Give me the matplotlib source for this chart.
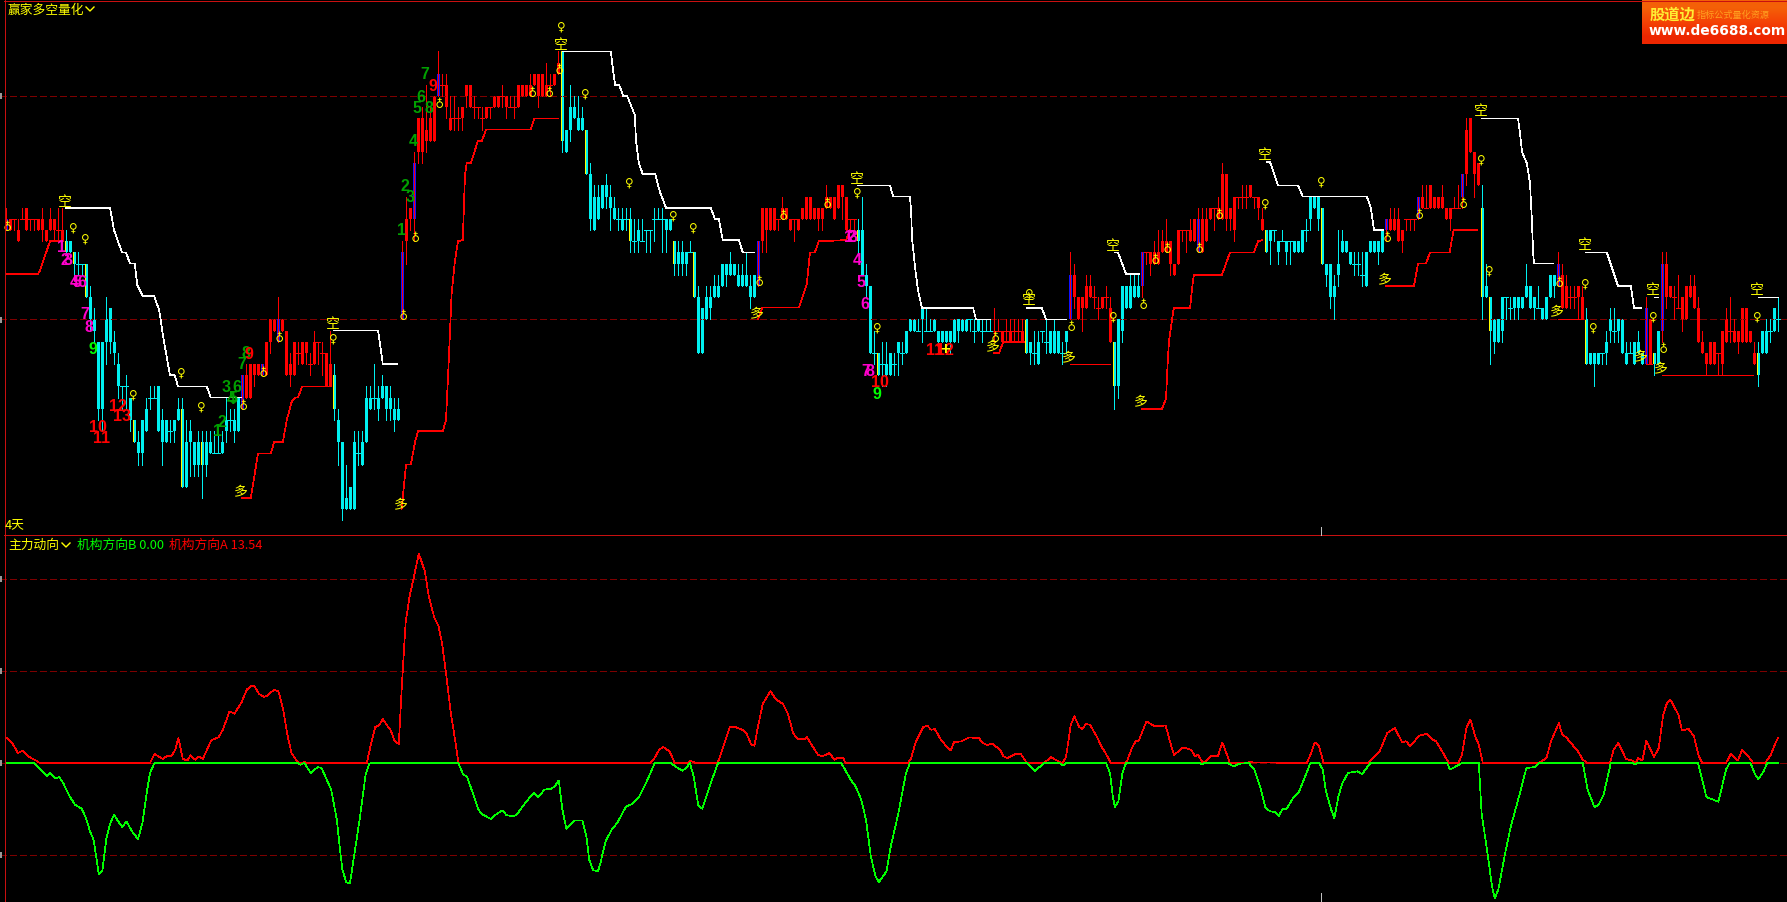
import numpy as np
import matplotlib
matplotlib.use('Agg')
import matplotlib.pyplot as plt
from matplotlib.lines import Line2D
from matplotlib.patches import Rectangle

plt.rcParams['font.family'] = ['Noto Sans CJK SC', 'DejaVu Sans']

W, H = 1787, 902

# candles, in price ticks from the lower grid line, one entry per bar
body_top = [
    9,9,9,8,9,10,9,9,9,9, 8,9,9,8,8,7,7,6,5,5,
    5,2,0,-2,-2,0,1,-2,-4,-6, -6,-7,-9,-11,-9,-8,-7,-7,-6,-9,
    -9,-10,-9,-8,-8,-11,-10,-11,-11,-11, -11,-11,-12,-12,-11,-9,-9,-9,-7,-5,
    -5,-4,-4,-4,-4,-2,0,0,0,0, -1,-4,-2,-3,-2,-2,-4,-2,-2,-3,
    -3,-4,-5,-9,-11,-16,-15,-11,-12,-11, -7,-7,-7,-7,-6,-6,-7,-8,-8,6,
    9,10,14,18,18,17,18,20,22,21, 21,18,18,18,19,21,21,19,19,18,
    19,19,20,20,20,20,19,19,21,21, 21,21,22,22,22,21,21,22,23,24,
    17,19,19,18,18,17,13,11,11,12, 12,11,10,9,9,9,9,7,8,7,
    8,8,9,9,9,9,9,7,6,6, 6,6,6,2,1,2,2,3,3,5,
    5,5,5,4,4,4,3,4,7,10, 10,10,10,9,10,10,9,9,9,10,
    11,11,10,10,10,11,11,11,12,12, 11,9,9,8,8,4,3,-3,-3,-4,
    -4,-3,-4,-2,-3,-1,0,0,-1,1, -1,-1,0,-1,-1,-1,-1,0,0,0,
    0,0,-1,0,-1,-1,-1,-1,-1,-1, -1,-1,-1,-1,-1,0,-2,-3,-2,-1,
    -2,-1,-1,-1,-3,-1,4,4,2,2, 3,3,2,1,2,2,1,-2,0,3,
    3,3,3,3,6,6,6,6,6,7, 7,7,5,8,8,8,8,9,9,9,
    9,10,10,10,13,13,10,11,11,11, 11,12,11,11,9,8,8,8,7,7,
    7,7,7,7,8,8,11,11,11,10, 5,5,3,5,7,7,6,5,5,4,
    6,7,7,7,8,9,9,9,9,8, 9,9,9,11,11,10,12,11,11,11,
    10,10,10,10,13,17,18,15,14,10, 3,2,0,0,2,2,1,2,2,2,
    3,3,2,1,1,2,4,4,5,4, 3,2,2,3,2,0,-3,-3,-3,-3,
    -2,0,-1,0,0,-3,-3,-2,-2,-3, 1,0,-3,-1,5,5,3,2,1,2,
    3,3,3,1,-2,-3,-2,-2,-3,-1, 0,-1,-1,-1,1,1,-1,-3,-3,-1,
    -1,-1,1,0]
body_bot = [
    8,8,9,7,9,8,9,9,8,8, 7,8,8,8,7,6,6,5,5,5,
    2,0,-1,-8,-8,-2,-2,-3,-6,-6, -6,-9,-11,-12,-12,-10,-7,-7,-10,-11,
    -11,-10,-10,-9,-15,-15,-11,-13,-13,-13, -13,-12,-12,-12,-12,-10,-9,-10,-10,-8,
    -7,-7,-5,-5,-5,-5,-2,-1,-2,-1, -5,-5,-5,-3,-4,-3,-4,-4,-2,-3,
    -6,-6,-8,-11,-17,-17,-17,-17,-12,-13, -11,-8,-7,-8,-7,-8,-8,-9,-9,0,
    7,9,9,15,15,16,16,16,20,21, 19,17,18,18,18,20,19,19,19,18,
    18,19,19,19,20,19,19,19,19,20, 20,20,21,20,20,20,21,21,22,16,
    15,17,18,17,17,13,9,8,9,10, 11,10,9,9,8,9,7,7,7,7,
    8,8,9,9,9,8,8,5,5,5, 5,6,2,-3,-3,0,1,2,2,3,
    4,4,4,3,3,3,2,2,3,7, 8,8,8,9,9,9,8,9,8,9,
    9,9,9,9,9,10,10,9,10,11, 8,9,9,7,4,3,-3,-3,-5,-4,
    -5,-5,-4,-3,-3,-3,-1,-1,-1,0, -1,-1,-1,-2,-2,-2,-2,-2,-1,-1,
    -1,0,-1,-1,-1,-1,-1,-1,-1,-2, -1,-2,-1,-1,-2,-3,-3,-3,-4,-1,
    -2,-3,-3,-3,-3,-2,0,2,0,1, 1,2,2,1,1,2,-2,-6,-6,-1,
    1,1,2,2,3,6,5,5,5,6, 6,5,4,5,8,8,7,7,6,6,
    7,9,10,9,9,9,9,8,11,11, 11,11,11,10,8,6,7,8,6,7,
    6,7,6,6,6,8,9,10,9,5, 4,2,2,4,6,6,5,5,5,4,
    3,6,6,6,6,8,8,8,7,7, 9,9,9,9,10,10,10,10,10,10,
    9,9,10,10,11,13,15,13,12,2, 2,-1,-2,-2,-1,2,1,1,1,1,
    2,1,1,1,0,0,2,3,3,1, 1,2,2,2,0,-4,-4,-4,-4,-3,
    -3,-1,-1,-1,-3,-4,-3,-4,-3,-4, -4,-4,-4,-4,-1,2,2,2,1,0,
    0,2,1,-2,-3,-4,-4,-4,-3,-4, -2,-1,-2,-2,-2,-2,-2,-4,-5,-3,
    -3,-1,-1,0]
wick_hi = [
    10,9,9,9,10,10,9,9,9,10, 8,10,9,10,10,8,7,6,6,5,
    5,3,1,-2,-2,2,1,-1,-3,-6, -5,-7,-9,-10,-9,-7,-6,-6,-6,-8,
    -9,-9,-9,-7,-7,-9,-9,-11,-10,-10, -10,-10,-10,-10,-10,-7,-8,-8,-7,-5,
    -4,-4,-4,-4,-4,-2,0,0,2,0, -1,-3,-2,-2,-2,-2,-3,-1,-2,-2,
    -3,-1,-4,-8,-11,-13,-15,-10,-10,-10, -6,-6,-4,-6,-5,-6,-6,-7,-7,7,
    11,10,15,18,19,21,19,20,24,22, 22,20,20,19,19,21,21,20,19,19,
    19,19,20,20,21,20,20,20,21,21, 21,22,22,22,22,23,22,22,24,24,
    17,21,20,20,19,17,14,12,12,12, 13,12,11,10,10,10,10,9,9,9,
    8,8,10,10,10,9,9,7,7,7, 6,7,6,3,1,3,3,4,4,5,
    5,6,5,5,5,6,4,4,7,10, 10,10,10,9,11,10,9,9,9,10,
    11,11,10,10,10,12,11,11,12,12, 11,9,9,9,11,5,3,-1,-3,-2,
    -2,-3,-3,-2,-2,-1,0,0,0,1, 1,0,0,-1,-1,-1,-1,0,0,0,
    0,0,0,0,0,0,0,1,0,-1, 0,0,0,0,0,0,-2,-1,-1,-1,
    0,-1,0,-1,-2,-1,6,5,2,2, 4,4,3,2,2,3,2,-2,0,3,
    3,4,4,4,6,6,6,7,8,8, 9,7,5,8,8,8,9,9,10,10,
    10,10,10,11,14,13,10,11,11,12, 12,12,11,11,10,8,8,8,7,8,
    7,7,7,7,8,9,11,11,11,10, 5,5,4,8,8,7,6,6,6,6,
    6,7,7,7,8,9,10,10,10,8, 9,9,9,11,12,12,12,11,11,12,
    10,10,11,12,13,18,18,15,14,12, 5,2,0,0,2,2,2,2,2,2,
    5,3,2,3,1,2,4,4,6,5, 4,3,3,3,3,1,-3,-3,-3,-3,
    -1,1,1,0,0,-2,-2,-2,-1,-3, 2,0,-3,-1,6,6,3,3,4,2,
    3,4,4,2,-1,-3,-2,-2,-3,-1, 1,2,0,-1,1,1,-1,-2,-2,-1,
    0,0,1,2]
wick_lo = [
    8,8,8,7,9,8,8,8,8,7, 7,8,7,7,7,6,6,4,4,4,
    2,-1,-2,-9,-10,-4,-3,-4,-7,-8, -8,-10,-11,-13,-13,-10,-8,-7,-10,-13,
    -11,-11,-11,-9,-15,-15,-14,-14,-14,-16, -14,-12,-12,-12,-12,-11,-10,-11,-10,-8,
    -7,-7,-6,-5,-5,-5,-3,-1,-2,-1, -5,-6,-5,-4,-4,-4,-5,-4,-4,-5,
    -6,-6,-9,-13,-18,-17,-17,-17,-13,-13, -11,-8,-8,-9,-7,-9,-9,-10,-9,0,
    5,8,7,14,14,15,16,16,20,20, 18,17,17,17,17,19,19,18,18,17,
    18,18,19,19,19,18,19,18,19,20, 20,20,21,19,20,20,20,21,22,15,
    15,16,18,17,17,13,8,8,9,10, 10,8,9,8,8,8,6,6,6,7,
    6,6,7,9,6,6,8,4,4,4, 4,6,2,-3,-3,0,0,2,2,3,
    3,4,4,3,3,3,1,2,3,6, 6,8,8,8,9,9,8,7,8,9,
    9,9,9,8,8,10,10,9,10,9, 8,8,8,6,4,2,-3,-4,-5,-6,
    -6,-5,-5,-5,-4,-3,-1,-1,-1,-2, -1,-1,-1,-2,-2,-2,-3,-2,-2,-1,
    -1,-1,-2,-1,-2,-1,-1,-2,-1,-2, -2,-2,-2,-2,-2,-3,-4,-4,-4,-2,
    -3,-3,-3,-3,-4,-3,0,1,0,-1, 1,2,1,0,1,1,-2,-8,-7,-2,
    1,1,2,2,2,5,4,5,5,6, 6,4,4,5,7,6,7,7,6,6,
    7,9,8,9,9,8,8,7,10,10, 10,11,10,9,8,6,5,7,5,7,
    5,5,6,6,6,7,8,10,8,5, 3,1,0,3,6,6,5,4,4,3,
    3,6,6,5,6,7,8,8,7,6, 8,8,8,9,10,10,10,10,10,10,
    9,8,10,10,10,12,15,11,12,0, 2,-4,-3,-2,-2,0,0,0,0,1,
    2,1,0,1,0,0,2,2,3,1, 1,1,1,0,0,-4,-4,-6,-4,-4,
    -4,-2,-2,-2,-3,-4,-3,-4,-3,-4, -4,-4,-5,-4,-2,1,2,0,1,-1,
    0,2,1,-2,-3,-5,-4,-4,-5,-5, -2,-2,-2,-3,-2,-2,-2,-4,-6,-3,
    -3,-2,-1,-1]

# r red, c cyan, y cyan with yellow core, b blue with red core
bar_kind = ('b' + 'r'*14 + 'y' + 'c' + 'y' + 'cc' + 'y' + 'c'*11 + 'y' + 'c'*11 + 'y' + 'c'*4 + 'y' + 'c'*9
            + 'b' + 'r'*4 + 'b' + 'r'*3 + 'b' + 'r'*13 + 'y' + 'c'*16 + 'b' + 'rr' + 'b' + 'r'*5 + 'b' + 'r'*30
            + 'y' + 'c'*5 + 'y' + 'c'*10 + 'y' + 'c'*10 + 'y' + 'c'*4 + 'y' + 'c'*15 + 'b' + 'r'*24
            + 'y' + 'c'*4 + 'y' + 'c'*28 + 'r'*8 + 'y' + 'c'*10 + 'b' + 'r'*10 + 'y' + 'c'*6 + 'b' + 'r'*13
            + 'b' + 'r'*16 + 'y' + 'c'*13 + 'y' + 'c'*15 + 'b' + 'r'*7 + 'b' + 'r'*10 + 'b' + 'r'*4 + 'y' + 'c'
            + 'y' + 'c'*16 + 'b' + 'r'*6 + 'y' + 'c'*14 + 'b' + 'r' + 'y' + 'c' + 'b' + 'r'*23 + 'y' + 'c'*5)

# white stop line, one (bars, ticks) pair per piece
white_x = [
    [15,26,27,28.5,29,30,31,32.2,32.8,34.2,37,38.3,39.3,40.2,41,42.2,43,50.2,51.2,58.7],
    [82,93,93.5,94.2,97.8],
    [139.3,151.2,151.8,152.3,153.3,154.3,155.3,157.2,157.5,158.2,159.2,162.3,163.5,165,176.2,177.2,178.2,179.2,183.2,184.2,187],
    [213,221,221.8,226,226.3,226.5,227.25,228,229,241.8,242.5,246],
    [255.2,259,260,265],
    [277.25,278,280,283.2],
    [315.2,316,318,323,324.2,340.2,341.2,342,344.3],
    [369,378,378.5,379,380.2,381,381.4,381.8,382,386.8],
    [395,400.2,403,406.2,407,408.9],
    [412,413],
    [438,443]]
white_y = [
    [10,10,8,6.5,6,6,5,5,3.1,2.1,2.1,0.84,-1.56,-3.4,-5,-5,-6,-6,-7,-7],
    [-1,-1,-2.2,-4,-4],
    [24,24,22.2,21,21,20,20,18.3,16,14,13,13,11.4,10,10,9,9,7.1,7.1,6,6],
    [12,12,11,11,9.5,7.3,4.7,2.6,1,1,0,0],
    [1,1,0,0],
    [6,6,4.07,4.07],
    [14.1,14.1,12,12,11,11,10,8,8],
    [18,18,16.7,15,14,12.2,9.4,5.9,5,5],
    [6,6,3,3,1,1],
    [2,2],
    [2,2]]

# red stop line
red_x = [
    [0,8,8.5,11,14.3],
    [58.9,61.2,63,66.2,67,69.2,70.2,71.4,72.25,73,74,81.4],
    [98.9,100,101.2,102.25,103,109.2,110,110.7,111,111.4,112.25,113,114.2,114.75,115.2,116.2,118,119,120,131.2,132.1,138],
    [188,189.1,198.25,200.2,201,202.2,203.2,210,211],
    [247,248.3,249.3,254.5],
    [266,276],
    [284,289,290,290.4,290.75,291.8,292,296,296.75,297,304,306,312,313,314],
    [345,352,353,355,356,360.9,361.9,367.9],
    [388,394.2],
    [410,411.5],
    [413.9,436.8]]
red_y = [
    [4.05,4.05,4.4,7,7],
    [-16,-16,-12,-12,-11,-11,-9,-7.4,-7,-7,-6,-6],
    [-17,-13,-13,-11,-10,-10,-9,-3.6,-1.1,2.3,5.3,7,7.1,13,14,14,16,16,17,17,18,18],
    [0,1.07,1.07,3.2,6,6,7,7.1,8],
    [-3,-3,-2,-2],
    [-4,-4],
    [-8,-8,-7.1,-4,-1.9,0.7,1,1,3.5,4,4,6,6,7,7.1],
    [3,3,5,5,6,6,8,8],
    [0,0],
    [-4,-4],
    [-5,-5]]

# marker positions (bar, ticks)
venus_pts = [(16.8,8.2),(19.8,7.2),(31.8,-6.75),(43.8,-4.8),(48.8,-7.8),(81.8,-1.75),(138.8,26.2),(144.8,20.2),
             (155.8,12.2),(166.8,9.3),(171.8,8.2),(212.8,11.3),(217.8,-0.75),(255.8,2.3),(276.8,0.24),(314.8,10.3),
             (328.8,12.3),(368.8,14.25),(370.8,4.3),(394.8,3.2),(396.8,-0.75),(411.8,0.24),(437.8,0.24)]
flip_pts = [(0,8.5),(102,7.6),(107.8,19.55),(58.9,-7.5),(63.8,-4.5),(67.8,-1.4),(98.9,0.54),(131.2,20.5),(135.3,20.5),
            (137.8,22.6),(187.8,3.6),(193.8,9.55),(204.8,10.6),(246.8,-1.4),(265.8,-0.4),(283.8,1.6),(286.8,5.6),
            (289.8,6.6),(297.8,6.6),(302.8,9.6),(344.8,7.6),(352.8,9.6),(363.8,10.6),(387.8,3.5),(413.8,-2.4)]
kong_pts = [(14.8,10.5),(81.8,-0.4),(138.8,24.6),(212.8,12.6),(255.8,1.7),(276.8,6.6),(314.8,14.7),(368.8,18.65),
            (394.8,6.7),(411.8,2.6),(437.8,2.6)]
duo_pts = [(58.7,-15.5),(98.75,-16.6),(187.8,0.5),(246.8,-2.45),(265.8,-3.5),(283.8,-7.45),(344.8,3.5),(387.8,0.6),
           (408.75,-3.4),(413.75,-4.5)]

magenta_nums = [(14,6.4,'1'),(14.8,5.25,'2'),(15.6,5.25,'3'),(17,3.3,'4'),(17.8,3.3,'5'),(18.9,3.3,'6'),(19.8,0.4,'7'),
                (20.8,-0.75,'8'),(210.7,7.3,'1'),(211.2,7.3,'2'),(211.8,7.3,'3'),(212.8,5.3,'4'),(213.8,3.3,'5'),
                (214.8,1.3,'6'),(215,-4.7,'7'),(216,-4.7,'8')]
dgreen_nums = [(53,-10,'1'),(53.9,-9.2,'2'),(55,-6.1,'3'),(56.2,-7.2,'4'),(56.8,-7.1,'5'),(57.8,-6.1,'6'),
               (58.9,-4.05,'7'),(59.9,-3.06,'8'),(98.9,8,'1'),(99.8,11.9,'2'),(101,10.9,'3'),(101.8,15.9,'4'),
               (102.8,18.9,'5'),(103.8,19.9,'6'),(104.8,21.9,'7'),(105.8,18.9,'8')]
bgreen_nums = [(21.8,-2.7,'9'),(217.8,-6.7,'9')]
red_nums = [(23.1,-9.7,'10'),(24,-10.7,'11'),(28,-7.8,'12'),(29,-8.7,'13'),(60.75,-3.1,'9'),(106.8,20.9,'9'),
            (218.5,-5.65,'10'),(232.25,-2.75,'11'),(234.75,-2.75,'12')]

# oscillator, red part above zero and green part below
osc_red_x = [0,1.4,3,4.2,5.4,6.3,7.9,8.4,36,37.1,39.2,40.1,41.4,42.3,43.1,44.2,45.4,46.1,47.3,48.1,49.2,51.3,53.2,54.2,
             55.9,57.1,58.8,60.2,61.4,62.1,63.3,64.5,65.5,66.9,68.1,69.3,70.5,71.4,72.9,73.6,74.6,75.3,90.2,91.3,92.3,
             93.2,94.2,95.6,96.1,97.2,98.2,99,99.9,100.9,102,103.2,104.7,105.7,107.1,108.1,109,110,111.2,112.4,113.1,
             161.1,161.9,163.3,164.3,165.9,167.2,170.3,171,171.9,172.4,177.7,178.2,179.6,181,182.5,184.4,185.1,186.3,
             187.1,188,189.2,191.1,192.5,194.2,195.4,196.8,197.8,199.7,200.2,201.4,203,204,205.9,207.1,207.8,209.3,209.9,
             225.5,226.2,227.4,229.3,230.3,231.3,232.2,233.7,235.1,236.2,237,238.9,240.8,243.2,244.2,245.3,246.6,248.5,
             249.4,250.4,252.3,253.7,255.2,259.5,260,261.2,262.8,264.1,265,266.2,267.1,268.3,269.1,270,271,272.9,273.8,
             274.8,276.2,279.6,280.3,281.5,282.4,283.2,285.1,287.2,289.9,291.1,292,294.2,296.3,297.3,298,298.5,299.2,
             299.9,301.3,303,304.1,306,309.5,310.7,325.2,326.1,327.2,328.2,329.4,340.6,342.5,343.4,345.3,347.2,349,350,
             351.1,353.3,355.1,356.5,357.5,359.3,360.7,363.1,364,365.1,366.1,367.3,368.2,369.2,383.2,385.1,386.3,388.2,
             389.1,390,393,394.2,395.4,401,401.9,403.1,405,406.6,407.5,408,409.1,410.1,412,413.2,414.3,415.3,416.1,418.1,
             419,420.6,422,423.2,424.1,430,431.2,433,434,435.3,436.8,439.8,441.2,442.4,443]
osc_red_y = [13.9,11.4,5.4,6.7,4,2.7,0.9,0,0,4.9,2.2,3.6,4,7.2,13.6,2.2,1.4,4.2,1.8,3.6,2.2,12.3,14.1,18.1,
             28.1,26.8,32.6,39.9,42,41.7,37.5,35.9,36.8,39.7,39.1,29,13.6,5.4,0.5,0,0.5,0,0,10.9,19.6,
             20.3,23.9,19.4,18.1,11.8,10.3,43.5,76.1,90.6,101.4,113.8,104.2,90.6,78.8,74.6,65.2,48.9,27.2,10.9,0,
             0,1.8,7.2,8.7,6.3,0,0,1.1,0.5,0,0,1.8,10.9,19.9,19.4,17.8,16.3,10,
             9.4,19.9,32.2,39.1,34.6,32.2,27.2,16.3,13.2,13,14.1,9.9,4.5,3.6,5.4,1.8,2.7,2.7,0,
             0,2.2,11.2,19.6,20.3,18.1,18.5,12.7,9.1,6.9,11.4,11.8,13.9,13.6,10.9,9.8,10.5,7.2,
             3.6,2.7,4.9,4.9,0,0,0.9,3.2,1.3,0,3.2,20.8,25.4,19.6,18.5,21.2,20.8,13.6,9.1,
             5.8,0,0,1.3,8.2,11.8,12.2,22.6,19.9,20.4,10.9,4.3,8.5,7.2,3.6,4.5,2.7,0,
             0.9,4,3.8,11.2,0,0,0.4,0,4.5,11.2,9.6,0,0,4.5,6.3,16.3,19,11.4,11.8,
             9.2,14.9,15.9,13,11.8,5.4,0,0,4.5,19,23.6,14.5,10,0,0,2.7,12.1,21.7,
             15.4,14.1,6.3,1.8,0,0,7.2,10.9,2.2,1.3,0,2.7,1.3,12.1,3.3,8.2,26.3,33,34.4,26.3,
             17.6,18.7,14.5,3.6,0,0,4.9,1.3,7.2,4.5,0,0,4.5,10.9,13.54]
osc_green_x = [0,7.1,8.5,10.2,10.9,12.4,13.3,14.3,15.7,17.2,18.9,20,21,21.9,23.2,24.1,25.1,26.1,27,28.2,29.1,30.1,31.5,33,
               34.1,35.3,36,37.1,72.9,73.6,74.6,75,76.2,77.9,78.9,80,81.3,82.7,83.6,84.1,85.1,86,87,88.4,89.9,90.8,91.3,
               113.1,114.3,115.2,116.7,118.1,119.2,121.2,122.4,124.1,125.1,127,128.1,130.1,132,133.1,134.6,136.3,137.2,
               138.2,139.1,140.1,142,144.1,145.1,145.8,146.8,148,148.5,149.9,151.4,152.8,155,156.6,158.1,160,162.2,166.2,
               167.6,169.1,170,171,171.9,173.1,174.1,176.2,178,208.8,211.2,212.4,213.8,215,216.2,217.4,218.2,220.1,221.2,
               223.1,225,226,255.2,257.3,259.5,263.3,264.3,265,275,276,276.7,277.2,278.1,279.1,280,298.5,299,299.6,305.5,
               306.9,308.3,310.7,312.1,313.5,314.9,316.1,317.2,318.2,319.1,320.2,321.9,323.3,326.1,328.3,329.2,329.9,331.3,
               332.1,333.1,334.1,335.5,337.8,339,341.1,360.3,361,364,368.2,368.9,370.6,371.5,372.2,373.1,374.8,376.2,378.5,
               380.1,382.3,383.2,394.2,395.4,397.1,398.2,399.4,401.2,406.6,407.3,407.8,423,425.1,428.1,430,430.9,436.1,437.5,
               438.1,439.4,440.3,443]
osc_green_y = [0,0,-3.3,-6.9,-5.4,-8.2,-7.6,-10.9,-17.2,-22.6,-24.8,-29.9,-37.1,-41.7,-60.3,-58.3,-40.8,-32.6,-28.1,-32.2,-34.8,-31.7,-37.1,-41.3,
               -32.6,-14.5,-5.4,0,0,-0.9,0,-1.4,-5.4,-2.2,-2.7,-8.2,-14.5,-30.8,-48.9,-58,-64.9,-65.2,-50.7,-30.8,-6.3,-0.4,0,
               0,-6.3,-7.2,-16.3,-25.4,-28.1,-30.3,-28.1,-25.7,-28.3,-29,-26.8,-20.8,-16.3,-18.5,-14.5,-13.9,-12.7,
               -9.4,-25.4,-35.7,-31.3,-31.2,-39.9,-52.5,-58.3,-58.7,-55.3,-42.6,-36.2,-32.6,-23.6,-22.3,-19,-10.9,0,0,
               -2.2,-4.2,-2.7,0,-7.2,-23.2,-24.8,-10.9,0,0,-9.1,-12.7,-19.9,-30.8,-50.7,-61.6,-64.7,-58.9,-45.3,
               -27.2,-5.4,0,0,-4.2,0,0,-1.4,0,0,-5.4,-18.1,-23.9,-20.8,-5.4,0,0,-0.7,0,0,
               -1.8,-0.4,0,-3.6,-12.7,-24.5,-26.3,-26.6,-28.8,-25,-24.8,-18.5,-15.4,0,0,-3.6,-14.5,-25.4,
               -29.9,-18.1,-10.9,-5.4,-4.5,-6,0,0,-3.6,0,0,-27.2,-52.5,-67,-73.4,-68.5,-48.9,-34.4,-16.3,
               -2.7,-2.2,0,0,-14.5,-23.9,-22.6,-17.2,0,0,-0.7,0,0,-18.5,-21,-3.6,0,0,-7.2,
               -8.7,-4.5,0,0]

assert len(body_top) == len(body_bot) == len(wick_hi) == len(wick_lo) == len(bar_kind) == 444

RED = '#ff0000'
CYAN = '#00f0f0'
YEL = '#ffff00'
BORDER = '#c81010'
DASH = '#7d0000'
LW = 0.72
THIN = 0.5

fig = plt.figure(figsize=(W / 100, H / 100), dpi=100, facecolor='black')


def frac(x, y):
    return x / W, 1 - y / H


# axes in the same pixel layout as the terminal window
top = fig.add_axes([0, 1 - 535 / H, 1, 535 / H])
bot = fig.add_axes([0, 0, 1, (H - 535) / H])
for a in (top, bot):
    a.set_facecolor('black')
    a.set_xlim(-1.5, 445.25)
    a.axis('off')
top.set_ylim(-19.3, 28.6)
bot.set_ylim(-75.5, 123.9)

for lv in (20, 0):
    top.axhline(lv, color=DASH, lw=LW, dashes=(6, 3.5), antialiased=False)
for lv in (100, 50, -50, 0):
    bot.axhline(lv, color=DASH, lw=LW, dashes=(6, 3.5), antialiased=False)

# candles
xs = np.arange(len(bar_kind))
top_arr, bot_arr = np.array(body_top), np.array(body_bot)
hi_arr, lo_arr = np.array(wick_hi), np.array(wick_lo)
kind = np.array(list(bar_kind))
is_red = (kind == 'r') | (kind == 'b')

top.vlines(xs[is_red], lo_arr[is_red], hi_arr[is_red], color=RED, lw=LW, antialiased=False)
top.vlines(xs[~is_red], lo_arr[~is_red], hi_arr[~is_red], color=CYAN, lw=LW, antialiased=False)

for k, col in (('r', RED), ('c', CYAN), ('y', CYAN), ('b', '#1010ff')):
    m = (kind == k) & (top_arr > bot_arr)
    top.bar(xs[m], top_arr[m] - bot_arr[m], bottom=bot_arr[m], width=0.75, color=col, linewidth=0, antialiased=False)
    d = (kind == k) & (top_arr == bot_arr)
    top.hlines(top_arr[d], xs[d] - 0.38, xs[d] + 0.38, color=col, lw=LW, antialiased=False)

m = kind == 'y'
top.bar(xs[m] - 0.125, top_arr[m] - bot_arr[m], bottom=bot_arr[m], width=0.5, color=YEL, linewidth=0, antialiased=False)
m = kind == 'b'
top.vlines(xs[m], bot_arr[m], top_arr[m], color=RED, lw=LW, antialiased=False)

# stop lines
for px, py in zip(white_x, white_y):
    top.plot(px, py, color='white', lw=THIN, antialiased=False)
for px, py in zip(red_x, red_y):
    top.plot(px, py, color=RED, lw=THIN, antialiased=False)

# signal glyphs
for px, py in venus_pts:
    top.text(px, py, '♀', color=YEL, fontsize=8.5, ha='center', va='center', family='DejaVu Sans')
for px, py in flip_pts:
    top.text(px, py, '♀', color=YEL, fontsize=8.5, ha='center', va='center', family='DejaVu Sans',
             rotation=180, rotation_mode='anchor')
for px, py in kong_pts:
    top.text(px, py, '空', color=YEL, fontsize=10, ha='center', va='center')
for px, py in duo_pts:
    top.text(px, py, '多', color=YEL, fontsize=10, ha='center', va='center')

for nums, col in ((magenta_nums, '#ff00cc'), (dgreen_nums, '#00a000'), (bgreen_nums, '#00ff00'), (red_nums, RED)):
    for px, py, s in nums:
        top.text(px, py, s, color=col, fontsize=11.5, ha='center', va='center',
                 family='Liberation Sans', fontweight='bold')
top.text(234.75, -2.7, '+', color=YEL, fontsize=12, ha='center', va='center', family='Liberation Sans', fontweight='bold')

# oscillator
bot.plot(osc_red_x, osc_red_y, color=RED, lw=THIN, antialiased=False)
bot.plot(osc_green_x, osc_green_y, color='#00ff00', lw=THIN, antialiased=False)

# window frame
for x0, y0, x1, y1, col in ((4.5, 0, 4.5, 902, BORDER), (4, 0.7, 1787, 0.7, BORDER), (4, 535, 1787, 535, BORDER),
                            (1320.5, 527, 1320.5, 535, '#c0c0c0'), (1320.5, 893, 1320.5, 902, '#c0c0c0')):
    a, b = frac(x0, y0)
    c, d = frac(x1, y1)
    fig.add_artist(Line2D([a, c], [b, d], color=col, lw=LW, antialiased=False))
for y0 in (96, 320, 579, 671, 763, 855):
    a, b = frac(0, y0 + 3)
    fig.add_artist(Rectangle((a, b), 2 / W, 6 / H, transform=fig.transFigure, color='#9a9a9a', lw=0))

# header texts
FS = 9.2
fig.text(*frac(8, 10), '赢家多空量化', color=YEL, fontsize=FS, va='center')
fig.text(*frac(5, 526), '4天', color=YEL, fontsize=FS, va='center')
fig.text(*frac(8, 545), '主力动向', color=YEL, fontsize=FS, va='center')
fig.text(*frac(77, 545), '机构方向B 0.00', color='#00ff00', fontsize=FS, va='center')
fig.text(*frac(169, 545), '机构方向A 13.54', color=RED, fontsize=FS, va='center')
for cx, cy in ((90, 9), (66, 545)):
    a, b = frac(cx - 4, cy - 2)
    c, d = frac(cx, cy + 2)
    e, f = frac(cx + 4, cy - 2)
    fig.add_artist(Line2D([a, c, e], [b, d, f], color=YEL, lw=1))

# logo box in the top right corner
logo = fig.add_axes([1642 / W, 1 - 44 / H, 145 / W, 44 / H])
shade = np.array([[[0.96, 0.38, 0.03]], [[0.96, 0.26, 0.02]], [[0.93, 0.15, 0.0]]])
logo.imshow(shade, aspect='auto', interpolation='bilinear')
logo.axis('off')
fig.text(*frac(1650, 15), '股道边', color='#ffee33', fontsize=11, fontweight='bold', va='center')
fig.text(*frac(1697, 15), '指标公式量化资源', color='#ffa020', fontsize=6.6, va='center')
fig.text(*frac(1649, 31), 'www.de6688.com', color='white', fontsize=9.9, fontweight='bold', va='center',
         family='DejaVu Sans')

fig.savefig('out.png', dpi=100, facecolor='black')
